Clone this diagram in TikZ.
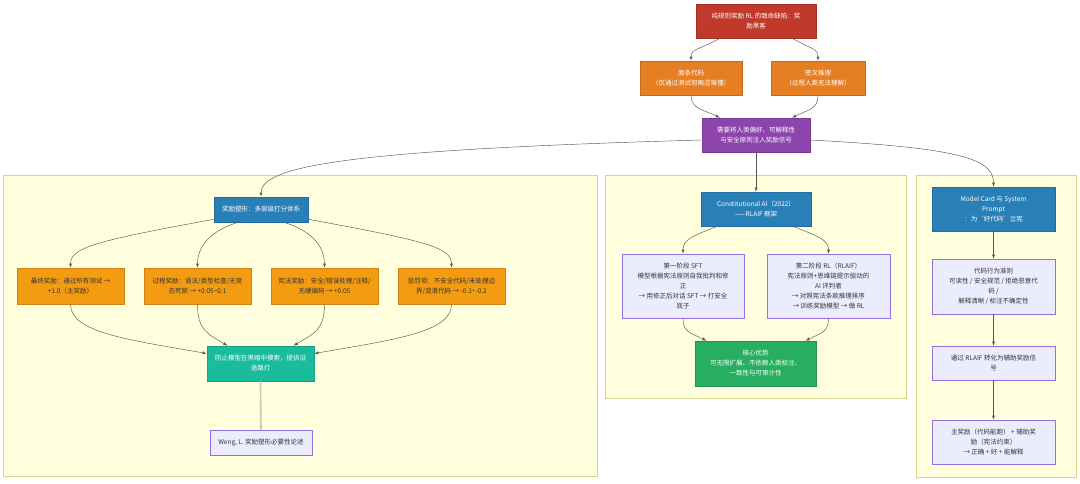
\documentclass[tikz,border=0pt]{standalone}
\usepackage{fontspec}
\setmainfont{Noto Sans CJK SC}
\usepackage{xcolor}
\usepackage{tikz}
\usetikzlibrary{calc}
\definecolor{flawred}{HTML}{C0392B}
\definecolor{warnorange}{HTML}{E67E22}
\definecolor{needpurple}{HTML}{8E44AD}
\definecolor{headblue}{HTML}{2980B9}
\definecolor{amber}{HTML}{F39C12}
\definecolor{teal}{HTML}{1ABC9C}
\definecolor{gaingreen}{HTML}{27AE60}
\definecolor{lav}{HTML}{ECECFF}
\definecolor{lavline}{HTML}{9370DB}
\definecolor{clusterbg}{HTML}{FFFFDE}
\definecolor{clusterline}{HTML}{D6D68A}
\definecolor{textdark}{HTML}{333333}
\definecolor{edgegray}{HTML}{555555}
\definecolor{linkgray}{HTML}{C8C8B4}

\begin{document}
\begin{tikzpicture}[x=1pt,y=-1pt,
        every node/.style={font=\fontsize{6.5}{10}\selectfont,align=center,inner sep=2pt},
        dark/.style={draw=#1!85!black,fill=#1,text=white,line width=0.6pt},
        lite/.style={draw=#1!85!black,fill=#1,text=textdark,line width=0.6pt},
        note/.style={draw=lavline,fill=lav,text=textdark,line width=0.6pt},
        cluster/.style={draw=clusterline,fill=clusterbg,line width=0.6pt},
        edge/.style={draw=edgegray,line width=0.45pt,-latex},
        link/.style={draw=linkgray,line width=1.6pt}]
        \useasboundingbox (0,0) rectangle (1080,483);
        % groups
        \draw[cluster] (3,175) rectangle (597,476);
        \draw[cluster] (605,175) rectangle (906,398);
        \draw[cluster] (916,175) rectangle (1076,477);
        % top chain
        \node[dark=flawred,minimum width=120,minimum height=34] (flaw) at (756,21) {纯规则奖励 RL 的致命缺陷：奖\\励黑客};
        \node[dark=warnorange,minimum width=102,minimum height=34] (noodle) at (691,78) {面条代码\\（仅通过测试但晦涩难懂）};
        \node[dark=warnorange,minimum width=94,minimum height=34] (cipher) at (818,78) {密文推理\\（过程人类无法理解）};
        \node[dark=needpurple,minimum width=108,minimum height=34] (need) at (756,135) {需要将人类偏好、可解释性\\与安全原则注入奖励信号};
        % reward shaping
        \node[dark=headblue,minimum width=94,minimum height=25] (shape) at (261,209.5) {奖励塑形：多层级打分体系};
        \node[lite=amber,minimum width=107,minimum height=36] (final) at (70.5,286) {最终奖励：通过所有测试 →\\+1.0（主奖励）};
        \node[lite=amber,minimum width=107,minimum height=36] (process) at (197.5,286) {过程奖励：语法/类型检查/无竞\\态死锁 → +0.05\textasciitilde0.1};
        \node[lite=amber,minimum width=107,minimum height=36] (const) at (324.5,286) {宪法奖励：安全/错误处理/注释/\\无硬编码 → +0.05};
        \node[lite=amber,minimum width=107,minimum height=36] (penalty) at (451.5,286) {惩罚项：不安全代码/未处理边\\界/混淆代码 → -0.1\textasciitilde-0.2};
        \node[dark=teal,minimum width=107,minimum height=35] (guide) at (260.5,363.5) {防止模型在黑暗中摸索，提供沿\\途路灯};
        \node[note,minimum width=102,minimum height=25] (cite) at (261,442.5) {Weng, L. 奖励塑形必要性论述};
        % constitutional AI
        \node[dark=headblue,minimum width=110,minimum height=34] (cai) at (756,209) {Constitutional AI（2022）\\——RLAIF 框架};
        \node[note,minimum width=122,minimum height=64] (stage1) at (683,286) {第一阶段 SFT\\模型根据宪法原则自我批判和修\\正\\→ 用修正后对话 SFT → 打安全\\底子};
        \node[note,minimum width=123,minimum height=64] (stage2) at (828.5,286) {第二阶段 RL（RLAIF）\\宪法原则+思维链提示驱动的\\AI 评判者\\→ 对照宪法条款推理排序\\→ 训练奖励模型 → 做 RL};
        \node[dark=gaingreen,minimum width=121,minimum height=45] (gain) at (755.5,363.5) {核心优势\\可无限扩展、不依赖人类标注、\\一致性与可审计性};
        % model card
        \node[dark=headblue,minimum width=123,minimum height=44] (card) at (993.5,209) {Model Card 与 System\\Prompt\\：为‘好代码’立宪};
        \node[note,minimum width=123,minimum height=55] (rules) at (993.5,286.5) {代码行为准则\\可读性 / 安全规范 / 拒绝恶意代\\码 /\\解释清晰 / 标注不确定性};
        \node[note,minimum width=123,minimum height=34] (rlaif) at (993.5,363) {通过 RLAIF 转化为辅助奖励信\\号};
        \node[note,minimum width=123,minimum height=44] (reward) at (993.5,442) {主奖励（代码能跑） + 辅助奖\\励（宪法约束）\\→ 正确 + 好 + 能解释};
        % connectors
        \draw[edge] ($(flaw.south)+(-36,0)$) .. controls +(-22,12) and +(0,-12) .. (noodle.north);
        \draw[edge] ($(flaw.south)+(36,0)$) .. controls +(22,12) and +(0,-12) .. (cipher.north);
        \draw[edge] (noodle.south) .. controls +(0,14) and +(-16,-8) .. ($(need.north)+(-36,0)$);
        \draw[edge] (cipher.south) .. controls +(0,14) and +(16,-8) .. ($(need.north)+(36,0)$);
        \draw[edge] ($(need.west)+(0,5)$) .. controls +(-360,10) and +(0,-30) .. (shape.north);
        \draw[edge] (need.south) -- (cai.north);
        \draw[edge] ($(need.east)+(0,5)$) .. controls +(150,8) and +(0,-28) .. (card.north);
        \draw[edge] ($(shape.south west)+(0,-3)$) .. controls +(-120,22) and +(0,-20) .. (final.north);
        \draw[edge] ($(shape.south)+(-23,0)$) .. controls +(-32,10) and +(0,-18) .. (process.north);
        \draw[edge] ($(shape.south)+(23,0)$) .. controls +(32,10) and +(0,-18) .. (const.north);
        \draw[edge] ($(shape.south east)+(0,-3)$) .. controls +(120,22) and +(0,-20) .. (penalty.north);
        \draw[edge] (final.south) .. controls +(0,28) and +(-80,-14) .. ($(guide.west)+(0,-10)$);
        \draw[edge] (process.south) .. controls +(0,26) and +(-20,-12) .. ($(guide.north)+(-33,0)$);
        \draw[edge] (const.south) .. controls +(0,26) and +(20,-12) .. ($(guide.north)+(33,0)$);
        \draw[edge] (penalty.south) .. controls +(0,28) and +(80,-14) .. ($(guide.east)+(0,-10)$);
        \draw[link] (guide.south) -- (cite.north);
        \draw[edge] ($(cai.south)+(-39,0)$) .. controls +(-25,10) and +(0,-14) .. (stage1.north);
        \draw[edge] ($(cai.south)+(37,0)$) .. controls +(25,10) and +(0,-14) .. (stage2.north);
        \draw[edge] (stage1.south) .. controls +(0,14) and +(-16,-8) .. ($(gain.north)+(-49,0)$);
        \draw[edge] (stage2.south) .. controls +(0,14) and +(16,-8) .. ($(gain.north)+(50,0)$);
        \draw[edge] (card) -- (rules);
        \draw[edge] (rules) -- (rlaif);
        \draw[edge] (rlaif) -- (reward);
    \end{tikzpicture}
\end{document}
